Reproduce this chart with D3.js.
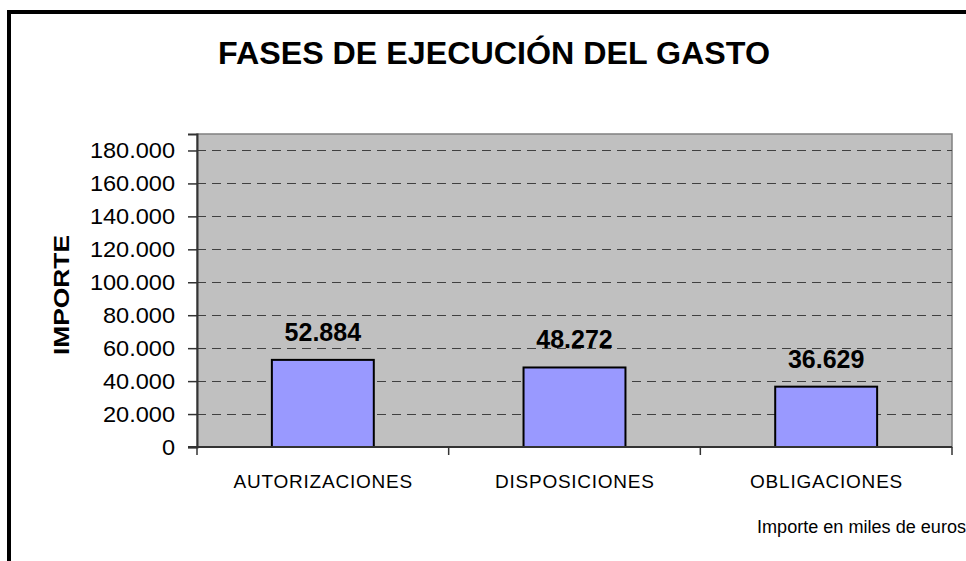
<!DOCTYPE html>
<html>
<head>
<meta charset="utf-8">
<script src="https://cdn.jsdelivr.net/npm/d3@7"></script>
<style>
  body { margin: 0; background: #fff; }
  svg { display: block; font-family: Arial, "Liberation Sans", sans-serif; }
</style>
</head>
<body>
<svg id="chart" width="966" height="561"></svg>
<script>
const categories = ["AUTORIZACIONES", "DISPOSICIONES", "OBLIGACIONES"];
const values = [52884, 48272, 36629];
const yTicks = [0, 20000, 40000, 60000, 80000, 100000, 120000, 140000, 160000, 180000];
const yMax = 190000;

const svg = d3.select("#chart");
const fmt = d => d3.format(",")(d).replace(/,/g, ".");

// the original text is drawn a bit wider than Arial, so widen it a little
function widen(sel, factor, mode) {
    sel.each(function () {
        const w = this.getComputedTextLength();
        d3.select(this)
            .attr("textLength", w * factor)
            .attr("lengthAdjust", mode || "spacingAndGlyphs");
    });
}

// outer frame (only left and top edges show in the picture)
svg.append("path")
    .attr("d", "M9,575 V12 H980")
    .attr("fill", "none")
    .attr("stroke", "#000")
    .attr("stroke-width", 4);

const plot = { left: 197, right: 952, top: 134, bottom: 447 };

const x = d3.scaleBand()
    .domain(categories)
    .range([plot.left, plot.right])
    .paddingInner(0.595)
    .paddingOuter(0.2975);

const y = d3.scaleLinear()
    .domain([0, yMax])
    .range([plot.bottom, plot.top]);

// plot background
svg.append("rect")
    .attr("x", plot.left)
    .attr("y", plot.top)
    .attr("width", plot.right - plot.left)
    .attr("height", plot.bottom - plot.top)
    .attr("fill", "#c0c0c0")
    .attr("stroke", "#808080")
    .attr("stroke-width", 1.5);

// dashed gridlines
svg.append("g")
    .selectAll("line")
    .data(yTicks.filter(d => d > 0))
    .enter()
    .append("line")
    .attr("x1", plot.left)
    .attr("x2", plot.right)
    .attr("y1", d => Math.round(y(d)) + 0.5)
    .attr("y2", d => Math.round(y(d)) + 0.5)
    .attr("stroke", "#404040")
    .attr("stroke-width", 1)
    .attr("stroke-dasharray", "9,6");

// bars
svg.append("g")
    .selectAll("rect")
    .data(values)
    .enter()
    .append("rect")
    .attr("x", (d, i) => x(categories[i]))
    .attr("y", d => y(d))
    .attr("width", x.bandwidth())
    .attr("height", d => plot.bottom - y(d))
    .attr("fill", "#9999ff")
    .attr("stroke", "#000")
    .attr("stroke-width", 2);

// y axis
const yAxis = d3.axisLeft(y)
    .tickValues(yTicks)
    .tickSize(9)
    .tickPadding(13)
    .tickFormat(fmt);

const gy = svg.append("g")
    .attr("transform", `translate(${plot.left},0)`)
    .call(yAxis);
gy.select(".domain").attr("stroke", "#333").attr("stroke-width", 2);
gy.selectAll(".tick line").attr("stroke", "#333").attr("stroke-width", 1.5);
gy.selectAll(".tick text")
    .attr("font-size", 22)
    .attr("fill", "#000")
    .attr("font-family", "Arial, 'Liberation Sans', sans-serif")
    .call(widen, 1.07);

// x axis with ticks at category boundaries
const gx = svg.append("g");
gx.append("line")
    .attr("x1", plot.left - 9).attr("x2", plot.right)
    .attr("y1", plot.bottom).attr("y2", plot.bottom)
    .attr("stroke", "#333").attr("stroke-width", 2);
const bounds = categories.map(c => x(c) - x.step() * x.paddingOuter()).concat([plot.right]);
gx.selectAll("line.tk")
    .data(bounds)
    .enter()
    .append("line")
    .attr("class", "tk")
    .attr("x1", d => d).attr("x2", d => d)
    .attr("y1", plot.bottom).attr("y2", plot.bottom + 8)
    .attr("stroke", "#333").attr("stroke-width", 1.5);
gx.selectAll("text")
    .data(categories)
    .enter()
    .append("text")
    .attr("x", d => x(d) + x.bandwidth() / 2)
    .attr("y", 488)
    .attr("text-anchor", "middle")
    .attr("font-size", 19)
    .text(d => d)
    .call(widen, 1.06, "spacing");

// value labels
svg.append("g")
    .selectAll("text")
    .data(values)
    .enter()
    .append("text")
    .attr("x", (d, i) => x(categories[i]) + x.bandwidth() / 2)
    .attr("y", d => y(d) - 19)
    .attr("text-anchor", "middle")
    .attr("font-size", 25)
    .attr("font-weight", "bold")
    .text(fmt)
    .call(widen, 1.0);

// title
svg.append("text")
    .attr("x", 494)
    .attr("y", 64)
    .attr("text-anchor", "middle")
    .attr("font-size", 31)
    .attr("font-weight", "bold")
    .text("FASES DE EJECUCIÓN DEL GASTO")
    .attr("textLength", 552)
    .attr("lengthAdjust", "spacingAndGlyphs");

// y axis title
svg.append("text")
    .attr("transform", "translate(69,295) rotate(-90)")
    .attr("text-anchor", "middle")
    .attr("font-size", 22)
    .attr("font-weight", "bold")
    .text("IMPORTE")
    .attr("textLength", 120)
    .attr("lengthAdjust", "spacingAndGlyphs");

// footnote
svg.append("text")
    .attr("x", 757)
    .attr("y", 533)
    .attr("font-size", 18)
    .text("Importe en miles de euros")
    .attr("textLength", 209)
    .attr("lengthAdjust", "spacingAndGlyphs");
</script>
</body>
</html>
